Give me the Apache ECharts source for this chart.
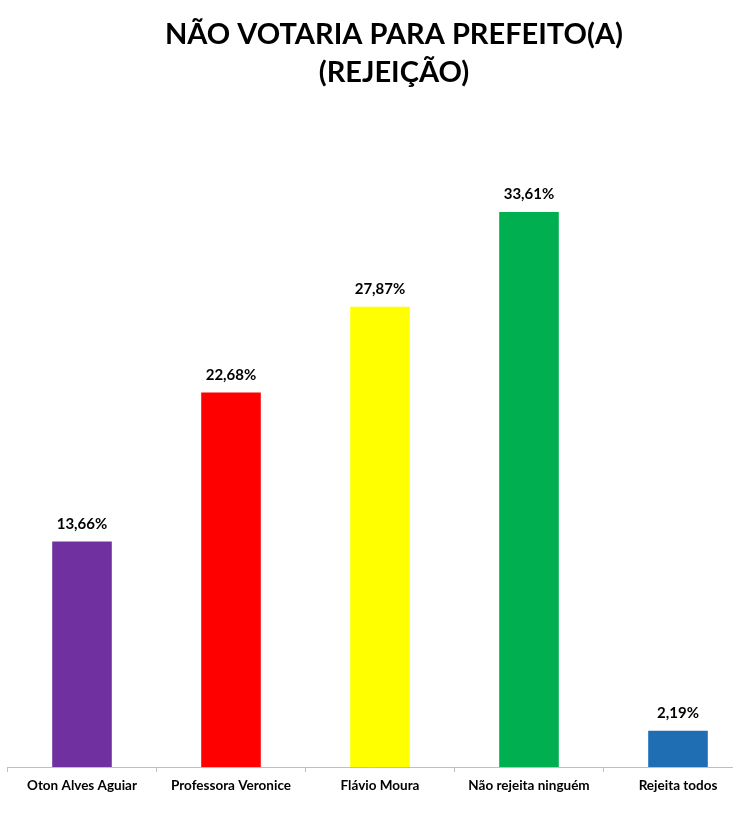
<!DOCTYPE html>
<html>
<head>
<meta charset="utf-8">
<script src="https://cdn.jsdelivr.net/npm/echarts@6/dist/echarts.min.js"></script>
<style>
html, body { margin: 0; padding: 0; background: #fff; }
#chart { width: 733px; height: 831px; }
</style>
</head>
<body>
<div id="chart"></div>
<script>
var categories = ["Oton Alves Aguiar", "Professora Veronice", "Flávio Moura", "Não rejeita ninguém", "Rejeita todos"];
var values = [13.66, 22.68, 27.87, 33.61, 2.19];
var barColors = ["#7030a0", "#ff0000", "#ffff00", "#00b050", "#1f6eb4"];

var font = "Lato, 'Liberation Sans', sans-serif";

var chart = echarts.init(document.getElementById("chart"));
chart.setOption({
    backgroundColor: "#ffffff",
    title: {
        text: "NÃO VOTARIA PARA PREFEITO(A)\n(REJEIÇÃO)",
        left: 389,
        textAlign: "center",
        top: 11,
        textStyle: {
            fontFamily: font,
            fontSize: 29,
            fontWeight: "bold",
            color: "#000",
            lineHeight: 38
        }
    },
    // plot area runs a little past the right edge, as in the original
    grid: { left: 7.5, width: 745, top: 106.5, bottom: 64, outerBoundsMode: "none" },
    xAxis: {
        type: "category",
        data: categories,
        axisLine: { lineStyle: { color: "#bfbfbf", width: 1 } },
        axisTick: { show: true, length: 5, lineStyle: { color: "#bfbfbf" } },
        axisLabel: {
            color: "#000",
            fontFamily: font,
            fontSize: 13.5,
            fontWeight: "bold",
            margin: 12,
            interval: 0
        }
    },
    yAxis: {
        type: "value",
        min: 0,
        max: 40,
        show: false,
        splitLine: { show: false }
    },
    series: [{
        type: "bar",
        barWidth: "40%",
        data: values.map(function (v, i) {
            return { value: v, itemStyle: { color: barColors[i] } };
        }),
        label: {
            show: true,
            position: "top",
            distance: 10,
            color: "#000",
            fontFamily: font,
            fontSize: 15,
            fontWeight: "bold",
            formatter: function (p) {
                return p.value.toFixed(2).replace(".", ",") + "%";
            }
        }
    }]
});
</script>
</body>
</html>
